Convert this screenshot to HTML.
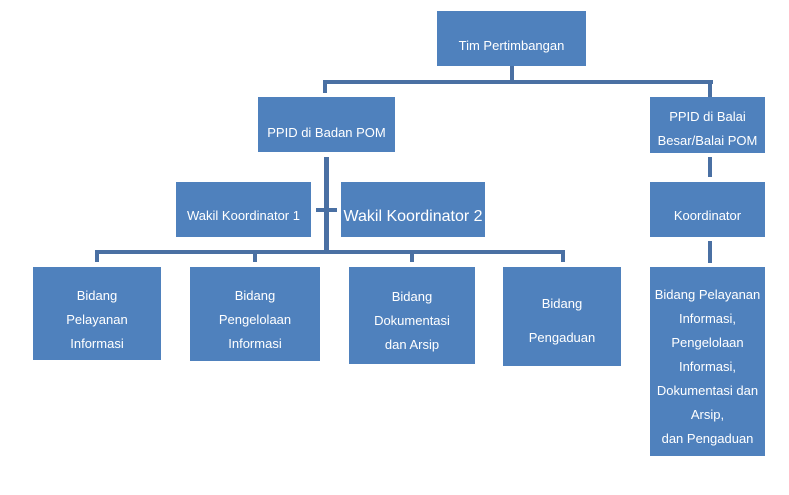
<!DOCTYPE html>
<html><head><style>
body{margin:0;width:789px;height:495px;background:#fff;position:relative;overflow:hidden;font-family:"Liberation Sans",sans-serif}
.b{position:absolute;background:#4F81BD;color:#fff;font-size:13px;display:flex;align-items:center;justify-content:center;text-align:center;line-height:24px;box-sizing:border-box;padding-top:6px}
.l{position:absolute;background:#4A70A3}
</style></head><body>
<div class="b" style="left:437px;top:11px;width:149px;height:55px;padding-top:14px">Tim Pertimbangan</div>
<div class="l" style="left:510px;top:66px;width:4px;height:18px"></div>
<div class="l" style="left:323px;top:80px;width:390px;height:4px"></div>
<div class="l" style="left:323px;top:80px;width:4px;height:13px"></div>
<div class="l" style="left:708px;top:80px;width:4px;height:17px"></div>
<div class="b" style="left:258px;top:97px;width:137px;height:55px;padding-top:16px">PPID di Badan POM</div>
<div class="b" style="left:650px;top:97px;width:115px;height:56px;padding-top:8px">PPID di Balai<br>Besar/Balai POM</div>
<div class="l" style="left:708px;top:157px;width:4px;height:20px"></div>
<div class="b" style="left:650px;top:182px;width:115px;height:55px;padding-top:12px">Koordinator</div>
<div class="l" style="left:708px;top:241px;width:4px;height:22px"></div>
<div class="b" style="left:650px;top:267px;width:115px;height:189px;padding-top:10px">Bidang Pelayanan<br>Informasi,<br>Pengelolaan<br>Informasi,<br>Dokumentasi dan<br>Arsip,<br>dan Pengaduan</div>
<div class="l" style="left:324px;top:157px;width:5px;height:97px"></div>
<div class="l" style="left:316px;top:208px;width:21px;height:4px"></div>
<div class="b" style="left:176px;top:182px;width:135px;height:55px;padding-top:12px">Wakil Koordinator 1</div>
<div class="b" style="left:341px;top:182px;width:144px;height:55px;font-size:16px;padding-top:14px">Wakil Koordinator 2</div>
<div class="l" style="left:95px;top:250px;width:470px;height:4px"></div>
<div class="l" style="left:95px;top:250px;width:4px;height:12px"></div>
<div class="l" style="left:253px;top:250px;width:4px;height:12px"></div>
<div class="l" style="left:410px;top:250px;width:4px;height:12px"></div>
<div class="l" style="left:561px;top:250px;width:4px;height:12px"></div>
<div class="b" style="left:33px;top:267px;width:128px;height:93px;padding-top:12px">Bidang<br>Pelayanan<br>Informasi</div>
<div class="b" style="left:190px;top:267px;width:130px;height:94px;padding-top:12px">Bidang<br>Pengelolaan<br>Informasi</div>
<div class="b" style="left:349px;top:267px;width:126px;height:97px;padding-top:10px">Bidang<br>Dokumentasi<br>dan Arsip</div>
<div class="b" style="left:503px;top:267px;width:118px;height:99px;padding-top:8px;line-height:34px">Bidang<br>Pengaduan</div>
</body></html>
